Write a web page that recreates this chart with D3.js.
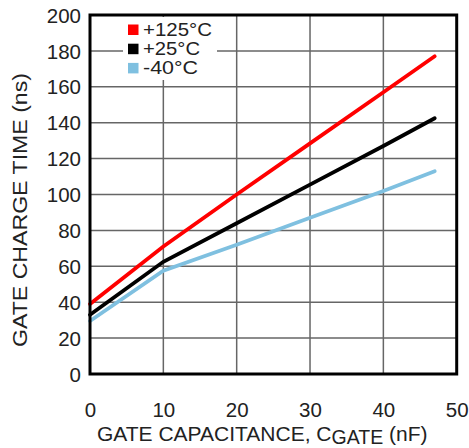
<!DOCTYPE html>
<html><head><meta charset="utf-8">
<script src="https://cdn.jsdelivr.net/npm/d3@7"></script>
<style>body{margin:0;background:#fff}svg{display:block}text{font-family:"Liberation Sans",Arial,sans-serif;fill:#222}</style>
</head><body><svg id="c" width="469" height="448"></svg>
<script>
const xTicks = [0,10,20,30,40,50];
const yTicks = [0,20,40,60,80,100,120,140,160,180,200];
const capacitance = [0,10,20,30,40,47];
const series = [
  {name:"+125°C", color:"#ff0000", values:[39,71,100,128.5,157,177]},
  {name:"+25°C", color:"#000000", values:[33,62.5,84,105.5,127,142.5]},
  {name:"-40°C", color:"#7fc0e0", values:[29.5,57.5,72,87,102,113]}
];
const legendWidths = [69, 57, 55];
const svg = d3.select("#c");
const m = {l:90, t:15, r:456.7, b:374};
const x = d3.scaleLinear().domain([0,50]).range([m.l, m.r]);
const y = d3.scaleLinear().domain([0,200]).range([m.b, m.t]);

// grid
const g = svg.append("g");
g.selectAll(".vx").data(xTicks.slice(1,-1)).enter().append("line")
  .attr("x1",d=>x(d)).attr("x2",d=>x(d)).attr("y1",m.t).attr("y2",m.b)
  .attr("stroke","#666").attr("stroke-width",1.5);
g.selectAll(".hy").data(yTicks.slice(1,-1)).enter().append("line")
  .attr("x1",m.l).attr("x2",m.r).attr("y1",d=>y(d)).attr("y2",d=>y(d))
  .attr("stroke","#666").attr("stroke-width",1.5);

// legend background
svg.append("rect").attr("x",123).attr("y",m.t+2).attr("width",94).attr("height",63).attr("fill","#fff");

// lines
const line = d3.line().x((d,i)=>x(capacitance[i])).y(d=>y(d));
series.forEach(s=>{
  svg.append("path").attr("d",line(s.values)).attr("fill","none")
    .attr("stroke",s.color).attr("stroke-width",3.8).attr("stroke-linecap","round");
});

// frame
svg.append("rect").attr("x",m.l).attr("y",m.t).attr("width",m.r-m.l).attr("height",m.b-m.t)
  .attr("fill","none").attr("stroke","#000").attr("stroke-width",3);

// axes labels
const xa = d3.axisBottom(x).tickValues(xTicks).tickSize(0).tickPadding(0);
const xg = svg.append("g").attr("transform",`translate(0,${m.b})`).call(xa);
xg.select(".domain").remove();
xg.selectAll("text").attr("y",36).attr("dy","0.35em").style("font-size","20.5px").attr("fill","#222");
const ya = d3.axisLeft(y).tickValues(yTicks).tickSize(0).tickPadding(0);
const yg = svg.append("g").attr("transform",`translate(${m.l-9},0)`).call(ya);
yg.select(".domain").remove();
yg.selectAll("text").attr("dy","0.35em").style("font-size","20.5px").attr("fill","#222");

// legend
series.forEach((s,i)=>{
  const cy = 29.5 + i*19.2;
  svg.append("rect").attr("x",128).attr("y",cy-5).attr("width",10.5).attr("height",10.5).attr("fill",s.color);
  svg.append("text").attr("x",143).attr("y",cy).attr("dy","0.35em").style("font-size","18.5px")
    .attr("textLength",legendWidths[i]).attr("lengthAdjust","spacingAndGlyphs").text(s.name);
});

// titles
const xt = svg.append("text").attr("x",97).attr("y",441).style("font-size","21px");
xt.append("tspan").text("GATE CAPACITANCE, C");
xt.append("tspan").attr("dy",2.5).style("font-size","19.5px").text("GATE");
xt.append("tspan").attr("dy",-2.5).text(" (nF)");
svg.append("text").attr("transform",`translate(27,210) rotate(-90)`).attr("text-anchor","middle")
  .style("font-size","20.5px").attr("textLength",274).attr("lengthAdjust","spacingAndGlyphs").text("GATE CHARGE TIME (ns)");
</script></body></html>
